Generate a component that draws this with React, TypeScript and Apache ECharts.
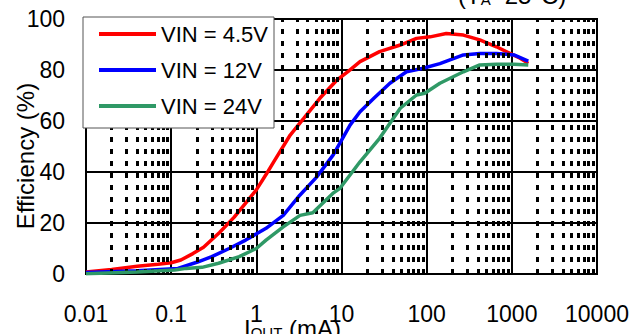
import React, { useEffect, useRef } from "react";
import * as echarts from "echarts";

const seriesNames = ["VIN = 4.5V", "VIN = 12V", "VIN = 24V"];
const seriesColors = ["#ff0000", "#0000ff", "#2f9966"];

const currentRed = [0.01, 0.02, 0.04, 0.07, 0.1, 0.13, 0.18, 0.24, 0.37, 0.55, 0.8, 1.0, 1.3, 1.6, 2.5, 3.6, 5.6, 8.8, 12, 16.5, 28, 49, 76, 110, 170, 270, 420, 660, 950, 1250, 1560];
const effRed = [0.8, 1.8, 3.0, 3.8, 4.4, 5.5, 8, 10.5, 16.3, 22.3, 29, 33, 39, 44, 54.5, 61, 69, 76, 79.5, 83.3, 87.2, 89.8, 92.4, 93, 94.3, 93.7, 91.8, 89.1, 86.5, 84.6, 82.6];

const currentBlue = [0.01, 0.04, 0.12, 0.2, 0.3, 0.48, 0.75, 1.3, 2.07, 3.26, 5.1, 8, 12.6, 16.5, 24, 37, 58, 91, 143, 270, 420, 660, 1060, 1560];
const effBlue = [0.6, 1.3, 2.2, 4.6, 6.8, 10, 13.3, 17.9, 23, 31, 38, 46.7, 58.4, 63.6, 68.9, 74.8, 79.3, 80.7, 82.5, 85.9, 86.5, 86.5, 85.9, 83.5];

const currentGreen = [0.01, 0.04, 0.11, 0.15, 0.23, 0.36, 0.63, 1.0, 1.3, 2.07, 3.26, 4.6, 7.9, 9.6, 16.5, 28, 49, 76, 95, 143, 270, 420, 660, 1060, 1560];
const effGreen = [0.1, 0.8, 1.6, 2.2, 2.6, 4.2, 6.8, 10, 13.3, 18.5, 23, 24, 31.6, 33.6, 44, 53.2, 65, 70.2, 70.9, 74.8, 79.3, 82, 82.3, 82.3, 82];

const xTickLabels = ["0.01", "0.1", "1", "10", "100", "1000", "10000"];
const decadeStarts = [0.01, 0.1, 1, 10, 100, 1000];
const minorMultipliers = [2, 3, 4, 5, 6, 7, 8, 9];

const FONT = "'Liberation Sans', Arial, sans-serif";

function zip(xs: number[], ys: number[]) {
  return xs.map((x, i) => [x, ys[i]]);
}

export default function App() {
  const ref = useRef<HTMLDivElement>(null);
  useEffect(() => {
    if (!ref.current) return;
    const chart = echarts.init(ref.current, undefined, { renderer: "svg" });
    const minorValues: number[] = [];
    decadeStarts.forEach((d) =>
      minorMultipliers.forEach((m) => minorValues.push(parseFloat((d * m).toPrecision(6))))
    );
    const datasets = [zip(currentRed, effRed), zip(currentBlue, effBlue), zip(currentGreen, effGreen)];
    chart.setOption({
      animation: false,
      textStyle: { fontFamily: FONT },
      grid: {
        left: 86,
        right: 36,
        top: 19,
        bottom: 60,
        show: true,
        borderColor: "#000",
        borderWidth: 2,
        outerBoundsMode: "none",
      },
      legend: {
        orient: "vertical",
        left: 83,
        top: 17,
        padding: [6, 6, 11, 16],
        itemGap: 14,
        itemWidth: 57,
        itemHeight: 4,
        icon: "rect",
        backgroundColor: "#fff",
        borderColor: "#555",
        borderWidth: 1,
        borderRadius: 0,
        data: seriesNames,
        textStyle: { fontSize: 22, color: "#000", fontFamily: FONT },
        z: 10,
      },
      xAxis: {
        type: "log",
        logBase: 10,
        min: 0.01,
        max: 10000,
        axisLine: { show: true, lineStyle: { color: "#000", width: 2 } },
        axisTick: { show: false },
        axisLabel: {
          fontSize: 23,
          color: "#000",
          margin: 28,
          fontFamily: FONT,
          formatter: (v: number) => xTickLabels[Math.round(Math.log10(v)) + 2] ?? "",
        },
        splitLine: { show: true, lineStyle: { color: "#000", width: 2 } },
        minorTick: { show: false },
        minorSplitLine: { show: false },
      },
      yAxis: {
        type: "value",
        min: 0,
        max: 100,
        interval: 20,
        axisLine: { show: true, lineStyle: { color: "#000", width: 2 } },
        axisTick: { show: false },
        axisLabel: { fontSize: 23, color: "#000", margin: 21, fontFamily: FONT },
        splitLine: { show: true, lineStyle: { color: "#000", width: 2 } },
      },
      graphic: [
        {
          type: "text",
          x: 25,
          y: 156,
          rotation: Math.PI / 2,
          silent: true,
          z: 20,
          style: {
            text: "Efficiency (%)",
            align: "center",
            verticalAlign: "middle",
            fontSize: 24,
            fontFamily: FONT,
            fill: "#000",
          },
        },
        {
          type: "text",
          x: 244,
          y: 340,
          silent: true,
          style: {
            text: "{a|I}{b|OUT}{a| (mA)}",
            verticalAlign: "bottom",
            fill: "#000",
            rich: {
              a: { fontSize: 24, fontFamily: FONT, fill: "#000", verticalAlign: "bottom" },
              b: { fontSize: 15, fontFamily: FONT, fill: "#000", verticalAlign: "bottom" },
            },
          },
        },
        {
          type: "text",
          x: 458,
          y: 7,
          silent: true,
          style: {
            text: "{a|(T}{b|A}{a|=25°C)}",
            verticalAlign: "bottom",
            fill: "#000",
            rich: {
              a: { fontSize: 24, fontFamily: FONT, fill: "#000", verticalAlign: "bottom" },
              b: { fontSize: 15, fontFamily: FONT, fill: "#000", verticalAlign: "bottom" },
            },
          },
        },
      ],
      series: [
        {
          name: "minor-grid",
          type: "line",
          data: [],
          z: 1,
          silent: true,
          markLine: {
            silent: true,
            symbol: ["none", "none"],
            label: { show: false },
            emphasis: { disabled: true },
            lineStyle: { color: "#000", width: 3, type: [5, 7] },
            data: minorValues.map((v) => ({ xAxis: v })),
          },
        },
        ...seriesNames.map((name, i) => ({
          name,
          type: "line",
          data: datasets[i],
          color: seriesColors[i],
          symbol: "none",
          z: 3 + i,
          lineStyle: { color: seriesColors[i], width: 3.5 },
          itemStyle: { color: seriesColors[i] },
          emphasis: { disabled: true },
        })),
      ],
    });
    return () => chart.dispose();
  }, []);
  return (
    <div
      ref={ref}
      style={{ position: "fixed", left: 0, top: 0, width: 633, height: 334, background: "#fff" }}
    />
  );
}
